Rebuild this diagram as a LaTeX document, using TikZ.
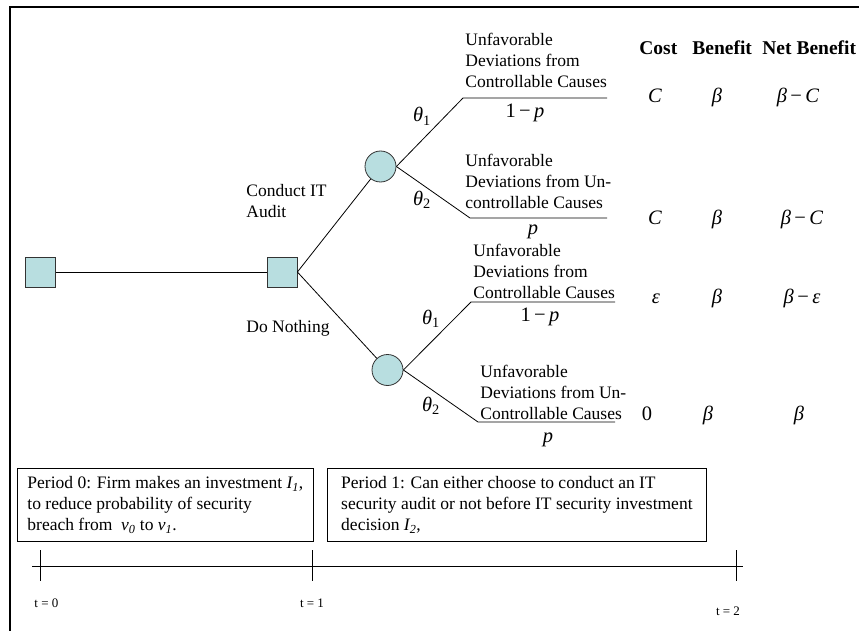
\documentclass[tikz,border=0pt]{standalone}
\usepackage{fontspec}
\setmainfont{Liberation Serif}
\definecolor{nodefill}{RGB}{184,222,224}
\newcommand{\vi}[1]{\textit{#1}}
\newcommand{\mn}{\,−\,}

\begin{document}
\begin{tikzpicture}[x=1pt,y=-1pt,line width=0.8pt]
  \tikzstyle{decision}=[rectangle,draw=black!80,fill=nodefill,minimum size=30pt,inner sep=0pt]
  \tikzstyle{chance}=[circle,draw=black!80,fill=nodefill,minimum size=31pt,inner sep=0pt]
  \tikzstyle{txt}=[font=\fontsize{17.5}{21}\selectfont,inner sep=0pt]
  \tikzstyle{sym}=[font=\fontsize{20.5}{22}\selectfont,inner sep=0pt,anchor=base]
  \tikzstyle{note}=[txt,align=left,anchor=north west]
  \tikzstyle{head}=[font=\fontsize{19.5}{22}\selectfont\bfseries,inner sep=0pt,anchor=base west]
  \tikzstyle{period}=[txt,draw,align=left,minimum height=73pt,anchor=north west]
  \tikzstyle{stamp}=[font=\fontsize{13}{15}\selectfont,inner sep=0pt,anchor=base]

  \useasboundingbox (0,0) rectangle (859,631);
  \draw[line width=1.2pt] (10,640) -- (10,7) -- (870,7);

  \node[decision] (D-0) at (40.5,272) {};
  \node[decision] (D-1) at (282,272) {};
  \node[chance] (C-1) at (380.5,166.5) {};
  \node[chance] (C-2) at (387.5,370) {};

  \draw (D-0) -- (D-1);
  \draw (D-1.east) -- (C-1);
  \draw (D-1.east) -- (C-2);

  \foreach \name/\xa/\xb/\y in {1/463/607/98, 2/470/607/218,
                                3/471/615/302, 4/478/615/422}
    { \coordinate (B-\name) at (\xa,\y); \coordinate (E-\name) at (\xb,\y); }

  \draw (C-1.east) -- (B-1) -- (E-1);
  \draw (C-1.east) -- (B-2) -- (E-2);
  \draw (C-2.east) -- (B-3) -- (E-3);
  \draw (C-2.east) -- (B-4) -- (E-4);

  \node[note] (A-1) at (246,184) {Conduct IT\\Audit};
  \node[note] (A-2) at (246,320) {Do Nothing};

  \foreach \name/\x/\y/\i in {T-1/422/122/1, T-2/422/205/2,
                              T-3/431/324/1, T-4/431/411/2}
    \node[sym] (\name) at (\x,\y) {\vi{θ}\textsubscript{\i}};

  \node[note] (O-1) at (465,33) {Unfavorable\\Deviations from\\Controllable Causes};
  \node[note] (O-2) at (465,154) {Unfavorable\\Deviations from Un-\\controllable Causes};
  \node[note] (O-3) at (473,244) {Unfavorable\\Deviations from\\Controllable Causes};
  \node[note] (O-4) at (480,365) {Unfavorable\\Deviations from Un-\\Controllable Causes};

  \foreach \name/\x/\y/\p in {P-1/525/118/1\mn\vi{p}, P-2/533/234/\vi{p},
                              P-3/540/321/1\mn\vi{p}, P-4/548/442/\vi{p}}
    \node[sym] (\name) at (\x,\y) {\p};

  \node[head] (H-1) at (639,55) {Cost};
  \node[head] (H-2) at (692,55) {Benefit};
  \node[head] (H-3) at (762,55) {Net Benefit};

  \foreach \name/\y/\xa/\xb/\xc/\cost/\net in {1/103/655/717/798/\vi{C}/\vi{β}\mn\vi{C},
                                               2/225/655/717/802/\vi{C}/\vi{β}\mn\vi{C},
                                               3/303/656/717/802/\vi{ε}/\vi{β}\mn\vi{ε},
                                               4/420/647/708/799/0/\vi{β}}
    { \node[sym] (V-\name-1) at (\xa,\y) {\cost};
      \node[sym] (V-\name-2) at (\xb,\y) {\vi{β}};
      \node[sym] (V-\name-3) at (\xc,\y) {\net}; }

  \node[period,minimum width=296pt] (Per-0) at (17,468)
    {Period 0: Firm makes an investment \vi{I\textsubscript{1}},\\
     to reduce probability of security\\
     breach from \ \vi{v\textsubscript{0}} to \vi{v\textsubscript{1}}.};
  \node[period,minimum width=379pt] (Per-1) at (327,468)
    {Period 1: Can either choose to conduct an IT\\
     security audit or not before IT security investment\\
     decision \vi{I\textsubscript{2}},};

  \coordinate (L-a) at (32,566);
  \coordinate (L-b) at (743,566);
  \draw (L-a) -- (L-b);
  \foreach \name/\x in {0/40, 1/312, 2/736}
    \draw (\x,550) -- (\x,581);

  \node[stamp,anchor=base west] (S-0) at (34,607) {t = 0};
  \node[stamp] (S-1) at (312,607) {t = 1};
  \node[stamp] (S-2) at (728,615) {t = 2};
\end{tikzpicture}
\end{document}
